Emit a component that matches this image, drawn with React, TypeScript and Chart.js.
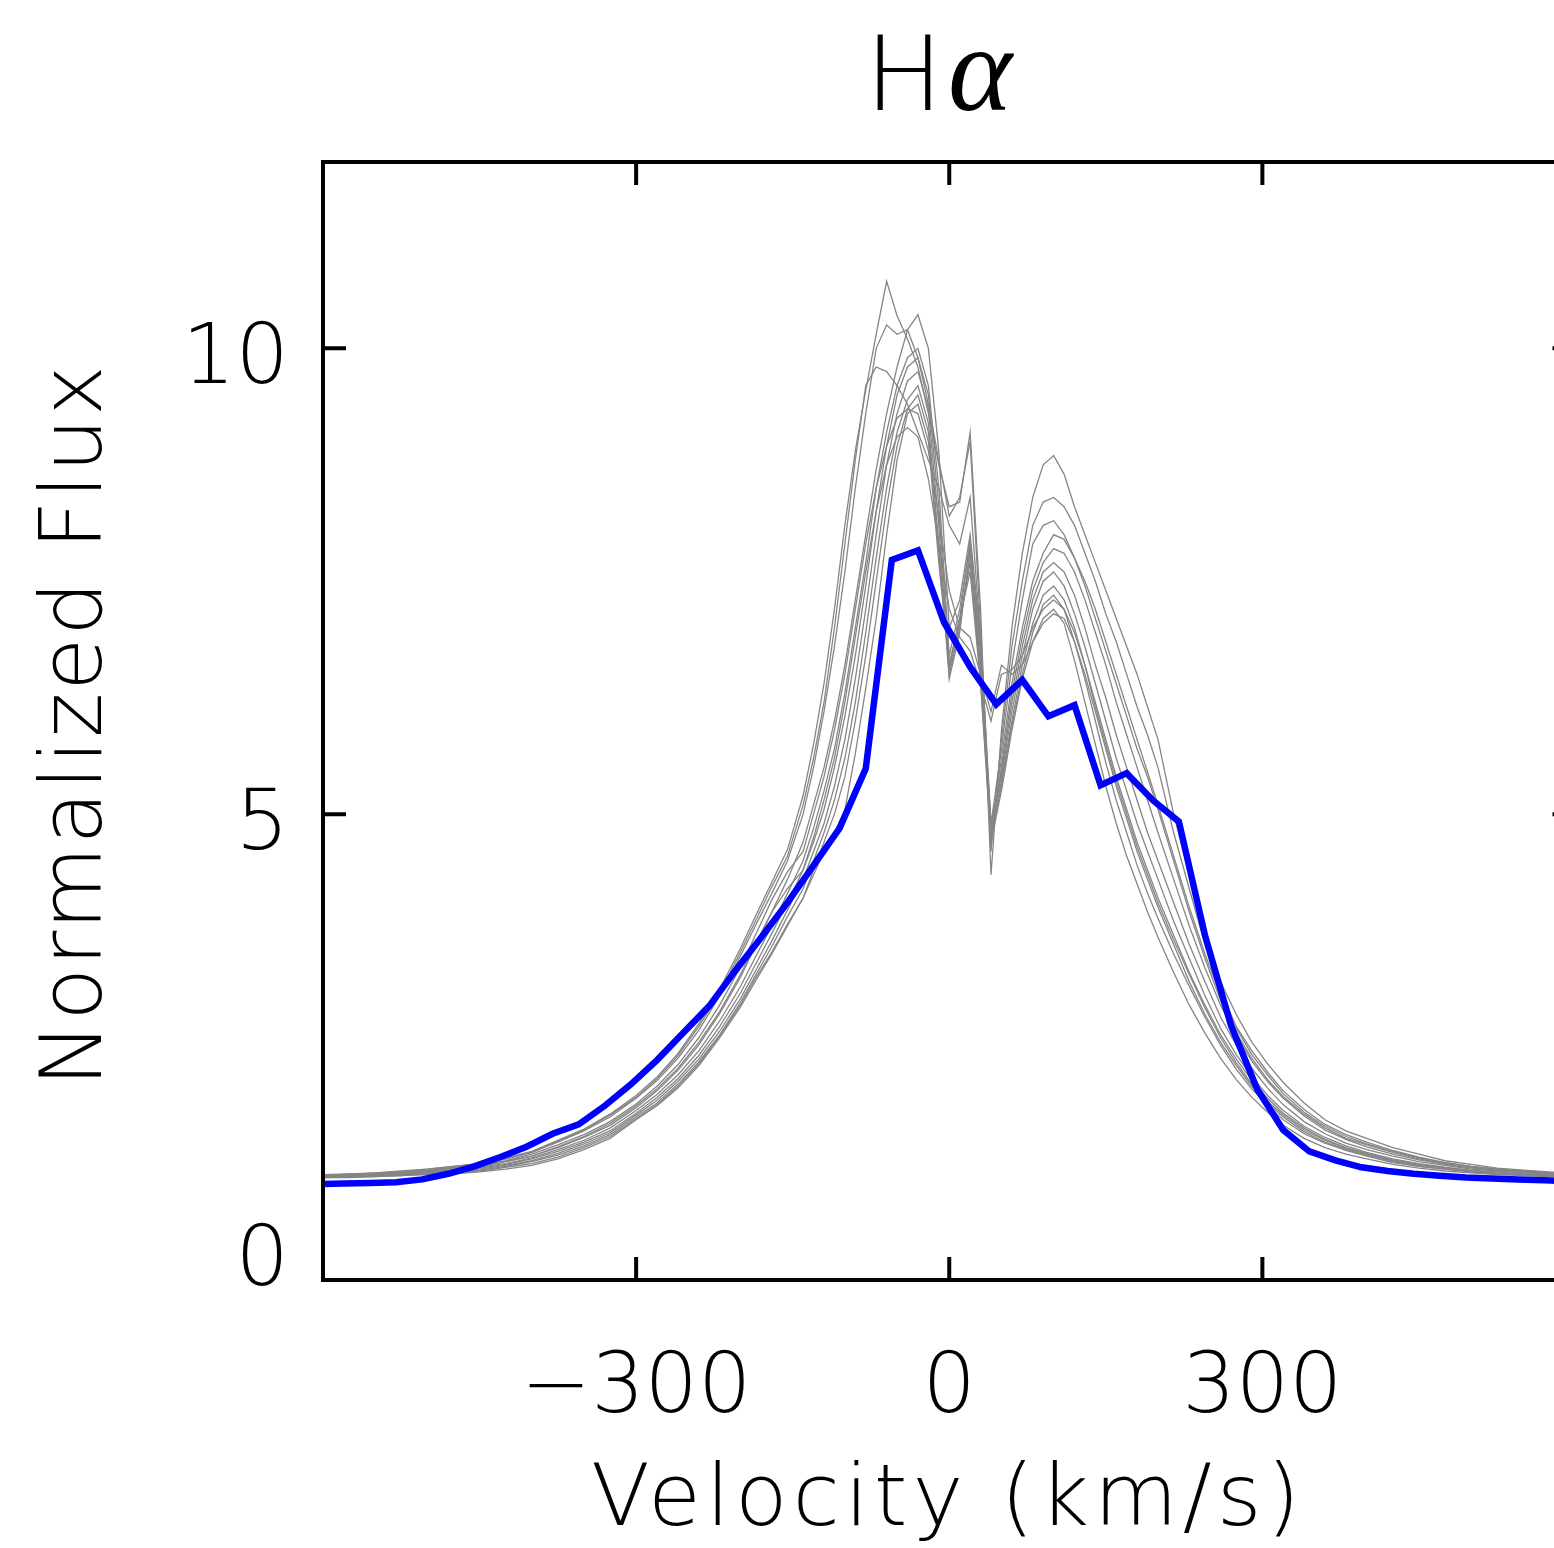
import React, { useEffect, useRef } from "react";
import { Chart, registerables } from "chart.js";

Chart.register(...registerables);

// ---------- data ----------
const velocityGrid = [
  -600, -575, -550, -525, -500, -475, -450, -425, -400, -375, -350, -325, -300,
  -280, -260, -240, -220, -200, -185, -170, -155,
  -140, -130, -120, -110, -100, -90, -80, -70, -60, -50, -40, -30, -20, -10, 0,
  10, 20, 30, 40, 50, 60, 70, 80, 90, 100, 110, 120, 130, 140, 150, 160, 170, 180, 190, 200,
  215, 230, 245, 260, 275, 290, 305, 320, 340, 360, 380, 400, 425, 450, 475, 500, 525, 550, 575, 600,
];

const specA1 = [
  1.13, 1.14, 1.15, 1.17, 1.19, 1.22, 1.25, 1.31, 1.38, 1.5, 1.62, 1.78, 1.98, 2.18, 2.43, 2.75, 3.12, 3.56, 3.92, 4.27, 4.62,
  5.2, 5.75, 6.4, 7.2, 8.1, 8.9, 9.55, 10.15, 10.72, 10.35, 10.1, 9.8, 9.3, 8.75, 8.3, 8.35, 9.1, 7.2, 4.35, 5.9,
  7.0, 7.8, 8.4, 8.75, 8.85, 8.65, 8.3, 8.0, 7.7, 7.4, 7.1, 6.8, 6.5, 6.15, 5.8,
  5.0, 4.35, 3.75, 3.2, 2.85, 2.55, 2.32, 2.12, 1.9, 1.72, 1.6, 1.52, 1.42, 1.35, 1.28, 1.24, 1.2, 1.18, 1.16, 1.15,
];
const specA2 = [
  1.12, 1.14, 1.14, 1.16, 1.18, 1.21, 1.24, 1.3, 1.37, 1.48, 1.6, 1.75, 1.95, 2.14, 2.38, 2.68, 3.05, 3.48, 3.82, 4.15, 4.5,
  5.0, 5.5, 6.1, 6.8, 7.6, 8.5, 9.3, 10.0, 10.25, 10.15, 10.2, 9.9, 9.4, 8.8, 8.2, 8.4, 9.0, 7.0, 4.6, 5.8,
  6.8, 7.5, 8.1, 8.35, 8.4, 8.3, 8.1, 7.8, 7.5, 7.15, 6.85, 6.5, 6.15, 5.85, 5.5,
  4.8, 4.2, 3.6, 3.1, 2.72, 2.46, 2.23, 2.03, 1.83, 1.67, 1.56, 1.48, 1.39, 1.32, 1.26, 1.22, 1.19, 1.17, 1.15, 1.14,
];
const specA3 = [
  1.13, 1.13, 1.15, 1.16, 1.19, 1.22, 1.25, 1.3, 1.37, 1.49, 1.61, 1.77, 1.96, 2.16, 2.41, 2.72, 3.08, 3.52, 3.87, 4.22, 4.55,
  5.1, 5.6, 6.2, 7.0, 7.9, 8.8, 9.6, 9.8, 9.75, 9.6, 9.4, 9.1, 8.8, 8.5, 8.1, 7.9, 8.4, 6.9, 4.9, 5.7,
  6.6, 7.3, 7.9, 8.1, 8.15, 8.0, 7.75, 7.45, 7.1, 6.75, 6.4, 6.05, 5.7, 5.4, 5.05,
  4.5, 3.95, 3.45, 3.0, 2.65, 2.38, 2.15, 1.97, 1.78, 1.63, 1.52, 1.45, 1.37, 1.3, 1.25, 1.21, 1.18, 1.16, 1.15, 1.14,
];
const specB1 = [
  1.12, 1.12, 1.13, 1.15, 1.17, 1.19, 1.22, 1.27, 1.33, 1.42, 1.53, 1.66, 1.85, 2.03, 2.25, 2.52, 2.86, 3.25, 3.6, 3.95, 4.3,
  4.7, 5.1, 5.5, 6.0, 6.6, 7.3, 8.0, 8.7, 9.3, 9.8, 10.2, 10.36, 10.0, 8.9, 7.0, 7.3, 8.0, 6.9, 4.8, 5.6,
  6.4, 7.0, 7.5, 7.8, 8.0, 7.95, 7.75, 7.5, 7.2, 6.85, 6.5, 6.15, 5.8, 5.45, 5.1,
  4.55, 4.0, 3.5, 3.05, 2.7, 2.42, 2.2, 2.0, 1.8, 1.65, 1.54, 1.46, 1.38, 1.31, 1.26, 1.22, 1.19, 1.17, 1.15, 1.14,
];
const specB2 = [
  1.11, 1.12, 1.13, 1.14, 1.16, 1.18, 1.21, 1.25, 1.31, 1.4, 1.5, 1.63, 1.82, 1.99, 2.2, 2.46, 2.78, 3.15, 3.48, 3.8, 4.15,
  4.5, 4.85, 5.25, 5.7, 6.3, 7.0, 7.7, 8.5, 9.1, 9.6, 9.9, 10.0, 9.6, 8.5, 6.7, 7.2, 7.9, 6.8, 4.75, 5.5,
  6.3, 6.9, 7.4, 7.7, 7.85, 7.8, 7.6, 7.3, 6.95, 6.6, 6.2, 5.85, 5.5, 5.15, 4.8,
  4.3, 3.8, 3.35, 2.95, 2.62, 2.35, 2.13, 1.95, 1.76, 1.61, 1.51, 1.43, 1.35, 1.29, 1.24, 1.2, 1.18, 1.16, 1.14, 1.13,
];
const specB3 = [
  1.11, 1.12, 1.12, 1.14, 1.15, 1.17, 1.2, 1.24, 1.3, 1.38, 1.48, 1.6, 1.79, 1.96, 2.16, 2.41, 2.72, 3.08, 3.4, 3.72, 4.05,
  4.4, 4.7, 5.05, 5.5, 6.05, 6.7, 7.45, 8.25, 8.95, 9.5, 9.8, 9.9, 9.5, 8.3, 6.6, 7.1, 7.95, 6.7, 4.85, 5.45,
  6.2, 6.8, 7.3, 7.6, 7.7, 7.6, 7.35, 7.0, 6.6, 6.25, 5.85, 5.5, 5.15, 4.8, 4.5,
  4.05, 3.6, 3.2, 2.82, 2.52, 2.27, 2.06, 1.88, 1.7, 1.57, 1.47, 1.4, 1.33, 1.27, 1.23, 1.19, 1.17, 1.15, 1.14, 1.13,
];
const specB4 = [
  1.11, 1.11, 1.12, 1.13, 1.15, 1.17, 1.19, 1.23, 1.28, 1.36, 1.46, 1.58, 1.77, 1.93, 2.13, 2.37, 2.67, 3.02, 3.33, 3.64, 3.97,
  4.3, 4.6, 4.9, 5.3, 5.8, 6.45, 7.2, 8.0, 8.75, 9.3, 9.65, 9.75, 9.35, 8.1, 6.5, 7.0, 7.8, 6.6, 4.9, 5.4,
  6.1, 6.7, 7.2, 7.5, 7.6, 7.45, 7.15, 6.8, 6.4, 6.0, 5.6, 5.25, 4.9, 4.6, 4.3,
  3.85, 3.45, 3.05, 2.7, 2.42, 2.18, 1.98, 1.82, 1.65, 1.53, 1.44, 1.37, 1.3, 1.25, 1.21, 1.18, 1.16, 1.14, 1.13, 1.12,
];
const specB5 = [
  1.1, 1.11, 1.12, 1.13, 1.14, 1.16, 1.18, 1.22, 1.27, 1.34, 1.44, 1.56, 1.75, 1.9, 2.1, 2.34, 2.63, 2.98, 3.28, 3.58, 3.9,
  4.2, 4.5, 4.8, 5.15, 5.6, 6.2, 6.95, 7.75, 8.5, 9.1, 9.45, 9.6, 9.2, 7.9, 6.45, 6.95, 7.85, 6.5, 4.8, 5.35,
  6.0, 6.6, 7.05, 7.35, 7.45, 7.3, 7.0, 6.6, 6.15, 5.75, 5.35, 5.0, 4.65, 4.35, 4.05,
  3.65, 3.28, 2.92, 2.6, 2.33, 2.1, 1.92, 1.77, 1.61, 1.5, 1.41, 1.35, 1.28, 1.23, 1.2, 1.17, 1.15, 1.13, 1.12, 1.12,
];
const specB6 = [
  1.1, 1.11, 1.11, 1.12, 1.14, 1.15, 1.17, 1.21, 1.25, 1.32, 1.42, 1.54, 1.73, 1.88, 2.08, 2.32, 2.62, 2.95, 3.25, 3.52, 3.82,
  4.1, 4.4, 4.7, 5.0, 5.4, 6.0, 6.7, 7.5, 8.3, 8.95, 9.35, 9.5, 9.1, 7.8, 6.55, 7.05, 7.7, 6.45, 4.75, 5.3,
  5.95, 6.5, 6.95, 7.25, 7.35, 7.2, 6.85, 6.45, 6.0, 5.55, 5.15, 4.8, 4.45, 4.15, 3.88,
  3.5, 3.15, 2.82, 2.52, 2.26, 2.05, 1.87, 1.72, 1.57, 1.47, 1.39, 1.33, 1.26, 1.22, 1.19, 1.16, 1.14, 1.13, 1.12, 1.11,
];
const specB7 = [
  1.1, 1.1, 1.11, 1.12, 1.13, 1.14, 1.16, 1.19, 1.23, 1.3, 1.4, 1.52, 1.72, 1.87, 2.06, 2.3, 2.6, 2.93, 3.22, 3.5, 3.8,
  4.1, 4.35, 4.6, 4.8, 5.05, 5.65, 6.35, 7.1, 8.0, 8.8, 9.3, 9.4, 9.0, 7.7, 6.6, 7.1, 7.6, 6.4, 4.7, 5.25,
  5.9, 6.45, 6.85, 7.1, 7.2, 7.05, 6.65, 6.2, 5.75, 5.3, 4.9, 4.55, 4.25, 3.95, 3.68,
  3.3, 2.95, 2.65, 2.38, 2.15, 1.96, 1.8, 1.66, 1.52, 1.42, 1.35, 1.3, 1.24, 1.2, 1.17, 1.15, 1.13, 1.12, 1.11, 1.11,
];
const specC1 = [
  1.12, 1.13, 1.14, 1.15, 1.17, 1.2, 1.23, 1.28, 1.35, 1.45, 1.56, 1.7, 1.89, 2.08, 2.31, 2.6, 2.95, 3.36, 3.72, 4.08, 4.38,
  4.6, 5.0, 5.4, 5.9, 6.5, 7.2, 7.9, 8.5, 8.95, 9.25, 9.35, 9.3, 8.9, 8.2, 7.4, 7.0, 6.9, 6.5, 6.1, 6.6,
  6.5, 6.6, 6.85, 7.05, 7.15, 7.1, 6.85, 6.5, 6.1, 5.7, 5.3, 4.95, 4.6, 4.3, 4.0,
  3.6, 3.2, 2.85, 2.55, 2.3, 2.08, 1.9, 1.75, 1.59, 1.48, 1.4, 1.34, 1.27, 1.22, 1.19, 1.16, 1.14, 1.13, 1.12, 1.12,
];
const specC2 = [
  1.11, 1.12, 1.13, 1.15, 1.16, 1.19, 1.22, 1.27, 1.33, 1.43, 1.54, 1.68, 1.87, 2.05, 2.27, 2.55, 2.88, 3.28, 3.62, 3.95, 4.2,
  4.4, 4.75, 5.15, 5.6, 6.2, 6.9, 7.6, 8.25, 8.75, 9.05, 9.15, 9.05, 8.6, 7.9, 7.2, 6.9, 6.75, 6.4, 6.0, 6.5,
  6.55, 6.7, 7.0, 7.2, 7.3, 7.2, 6.95, 6.6, 6.2, 5.8, 5.4, 5.05, 4.7, 4.4, 4.1,
  3.7, 3.3, 2.95, 2.63, 2.37, 2.14, 1.95, 1.79, 1.63, 1.51, 1.42, 1.36, 1.29, 1.24, 1.2, 1.17, 1.15, 1.14, 1.13, 1.12,
];

const graySpectra = [specA1, specA2, specA3, specB1, specB2, specB3, specB4, specB5, specB6, specB7, specC1, specC2];

const blueVelocity = [
  -605, -580, -555, -530, -505, -480, -455, -430, -405, -380, -355, -330, -305, -280, -255, -230, -205, -180, -155,
  -130, -105, -80, -55, -30, -5, 20, 45, 70, 95, 120, 145, 170, 195, 220, 245, 270, 295, 320, 345, 370, 395, 420,
  445, 470, 495, 520, 545, 570, 595, 620,
];
const blueFlux = [
  1.03, 1.035, 1.04, 1.05, 1.08, 1.14, 1.22, 1.32, 1.43, 1.57, 1.67, 1.87, 2.1, 2.36, 2.65, 2.94, 3.32, 3.68, 4.05,
  4.45, 4.85, 5.49, 7.73, 7.83, 7.06, 6.58, 6.18, 6.44, 6.05, 6.17, 5.31, 5.44, 5.15, 4.92, 3.7, 2.73, 2.05, 1.61, 1.38,
  1.285, 1.21, 1.17, 1.14, 1.12, 1.1, 1.09, 1.08, 1.07, 1.06, 1.05,
];

const xTicks = [-300, 0, 300];
const xTickLabels = ["\u2212300", "0", "300"];
const yTicks = [0, 5, 10];
const yTickLabels = ["0", "5", "10"];
const titleMain = "H";
const titleGreek = "\u03b1";
const xTitle = "Velocity (km/s)";
const yTitle = "Normalized Flux";

// ---------- layout ----------
const CANVAS_W = 1600;
const CANVAS_H = 1548;
const TICK_LEN = 23;
const SANS = "'DejaVu Sans', sans-serif";

const framePlugin = {
  id: "idlFrame",
  afterDraw(chart: any) {
    const { ctx, chartArea: a, scales } = chart;
    const xs = scales.x;
    const ys = scales.y;
    ctx.save();
    ctx.strokeStyle = "#000";
    ctx.lineWidth = 4;
    ctx.strokeRect(a.left, a.top, a.right - a.left, a.bottom - a.top);
    ctx.beginPath();
    for (const t of xTicks) {
      const px = xs.getPixelForValue(t);
      ctx.moveTo(px, a.top);
      ctx.lineTo(px, a.top + TICK_LEN);
      ctx.moveTo(px, a.bottom);
      ctx.lineTo(px, a.bottom - TICK_LEN);
    }
    for (const t of yTicks) {
      const py = ys.getPixelForValue(t);
      ctx.moveTo(a.left, py);
      ctx.lineTo(a.left + TICK_LEN, py);
      ctx.moveTo(a.right, py);
      ctx.lineTo(a.right - TICK_LEN, py);
    }
    ctx.stroke();

    ctx.fillStyle = "#000";
    // x tick labels
    ctx.font = `200 84px ${SANS}`;
    ctx.textAlign = "center";
    ctx.textBaseline = "alphabetic";
    xTicks.forEach((t, i) => {
      const px = xs.getPixelForValue(t);
      ctx.fillText(xTickLabels[i], px, 1412);
    });
    // y tick labels
    ctx.textAlign = "right";
    yTicks.forEach((t, i) => {
      const py = ys.getPixelForValue(t);
      const base = t === 0 ? py + 5 : py + 35;
      ctx.fillText(yTickLabels[i], 289, base);
    });
    // x title
    ctx.font = `200 86px ${SANS}`;
    ctx.textAlign = "center";
    (ctx as any).letterSpacing = "5px";
    ctx.fillText(xTitle, 948, 1525);
    // y title
    (ctx as any).letterSpacing = "2px";
    ctx.save();
    ctx.translate(101, 725);
    ctx.rotate(-Math.PI / 2);
    ctx.textAlign = "center";
    ctx.fillText(yTitle, 0, 0);
    ctx.restore();
    (ctx as any).letterSpacing = "0px";
    // title
    ctx.textAlign = "left";
    ctx.font = `200 104px ${SANS}`;
    ctx.fillText(titleMain, 865, 110);
    ctx.font = `italic 122px 'Liberation Serif', serif`;
    ctx.fillText(titleGreek, 948, 110);
    ctx.restore();
  },
};

export default function App() {
  const ref = useRef<HTMLCanvasElement | null>(null);
  useEffect(() => {
    if (!ref.current) return;
    const grayDatasets = graySpectra.map((s, k) => ({
      label: `spec${k + 1}`,
      data: velocityGrid.slice(0, s.length).map((v, i) => ({ x: v, y: s[i] })),
      borderColor: "#858585",
      borderWidth: 1.3,
      pointRadius: 0,
      tension: 0,
      order: 1,
    }));
    const chart = new Chart(ref.current, {
      type: "line",
      data: {
        datasets: [
          {
            label: "model",
            data: blueVelocity.map((v, i) => ({ x: v, y: blueFlux[i] })),
            borderColor: "#0000ff",
            borderWidth: 6.5,
            pointRadius: 0,
            tension: 0,
            order: 0,
          },
          ...grayDatasets,
        ],
      },
      options: {
        animation: false,
        responsive: false,
        maintainAspectRatio: false,
        devicePixelRatio: 1,
        layout: { padding: { left: 323, top: 162, right: CANVAS_W - 1575.5, bottom: CANVAS_H - 1280 } },
        plugins: { legend: { display: false }, tooltip: { enabled: false }, title: { display: false } },
        scales: {
          x: { type: "linear", min: -600, max: 600, display: false },
          y: { type: "linear", min: 0, max: 12, display: false },
        },
      },
      plugins: [framePlugin],
    });
    return () => chart.destroy();
  }, []);
  return (
    <div
      style={{
        position: "fixed",
        left: 0,
        top: 0,
        width: 1554,
        height: 1548,
        overflow: "hidden",
        background: "#fff",
      }}
    >
      <canvas ref={ref} width={CANVAS_W} height={CANVAS_H} style={{ width: CANVAS_W, height: CANVAS_H, display: "block" }} />
    </div>
  );
}
